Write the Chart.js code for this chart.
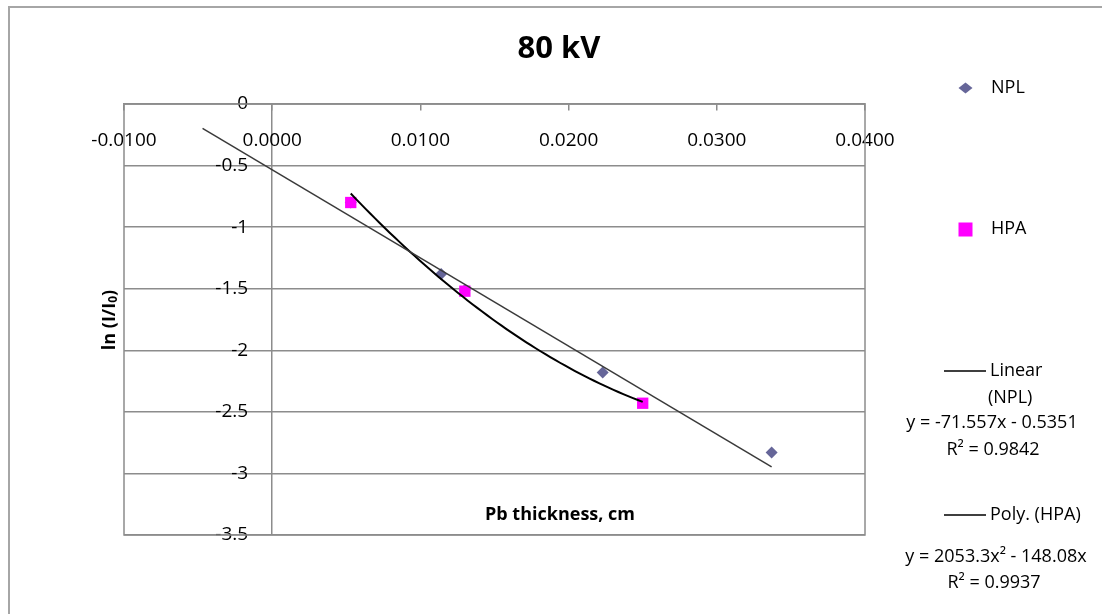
<!DOCTYPE html>
<html>
<head>
<meta charset="utf-8">
<title>80 kV</title>
<script src="https://cdn.jsdelivr.net/npm/chart.js@4/dist/chart.umd.min.js"></script>
<style>
  html, body { margin: 0; padding: 0; background: #ffffff; }
  #wrap { width: 1102px; height: 614px; position: relative; }
</style>
</head>
<body>
<div id="wrap"><canvas id="chart" width="1102" height="614"></canvas></div>
<script>
// ---- data ----
const chartTitle = '80 kV';
const xAxisTitle = 'Pb thickness, cm';
const seriesNames = ['NPL', 'HPA'];

const nplThickness = [0.0053, 0.0114, 0.0130, 0.0223, 0.0337];
const nplLnRatio   = [-0.80, -1.38, -1.51, -2.18, -2.83];

const hpaThickness = [0.0053, 0.0130, 0.0250];
const hpaLnRatio   = [-0.80, -1.52, -2.43];

// fitted trends, with the coefficients printed in the legend
const nplLinear = { slope: -71.557, intercept: -0.5351, r2: 0.9842, backward: 0.01 };
const hpaPoly   = { a: 2053.3, b: -148.08, r2: 0.9937 };

const xTicks = [-0.01, 0, 0.01, 0.02, 0.03, 0.04];
const yTicks = [0, -0.5, -1, -1.5, -2, -2.5, -3, -3.5];

// ---- styling ----
const FONT = '"Open Sans", "Liberation Sans", sans-serif';
const GRID = '#8c8c8c';
const NPL_COLOR = '#666699';
const HPA_COLOR = '#ff00ff';

const toPoints = (xs, ys) => xs.map((x, i) => ({ x, y: ys[i] }));

// linear trend line, extended backwards by the forecast period
const linStart = nplThickness[0] - nplLinear.backward;
const linEnd = nplThickness[nplThickness.length - 1];
const linearTrend = [linStart, linEnd].map(x => ({ x, y: nplLinear.slope * x + nplLinear.intercept }));

// quadratic trend curve across the HPA range
const polyTrend = [];
{
  const x0 = hpaThickness[0], x1 = hpaThickness[hpaThickness.length - 1], n = 60;
  for (let i = 0; i <= n; i++) {
    const x = x0 + (x1 - x0) * i / n;
    polyTrend.push({ x, y: hpaPoly.a * x * x + hpaPoly.b * x });
  }
}

// background, outer frame and plot-area frame
const framePlugin = {
  id: 'frame',
  afterLayout(chart) {
    // the value axis crosses at x = 0: its labels end just left of that line
    const y = chart.scales.y;
    y.left = chart.chartArea.left;
    y.right = chart.scales.x.getPixelForValue(0);
  },
  beforeDraw(chart) {
    const ctx = chart.ctx;
    ctx.save();
    ctx.fillStyle = '#ffffff';
    ctx.fillRect(0, 0, chart.width, chart.height);
    ctx.strokeStyle = '#a6a6a6';
    ctx.lineWidth = 2;
    ctx.beginPath();
    ctx.moveTo(9, chart.height);
    ctx.lineTo(9, 7);
    ctx.lineTo(chart.width, 7);
    ctx.stroke();
    ctx.restore();
  },
  beforeDatasetsDraw(chart) {
    const { ctx, chartArea: a } = chart;
    ctx.save();
    ctx.strokeStyle = GRID;
    ctx.lineWidth = 1.5;
    ctx.strokeRect(a.left, a.top, a.right - a.left, a.bottom - a.top);
    ctx.restore();
  }
};

// title, axis titles and the legend on the right
const labelsPlugin = {
  id: 'labels',
  afterDraw(chart) {
    const ctx = chart.ctx;
    ctx.save();
    ctx.fillStyle = '#000000';
    ctx.textBaseline = 'middle';

    // chart title
    ctx.font = 'bold 31px ' + FONT;
    ctx.textAlign = 'center';
    ctx.fillText(chartTitle, 559, 49);

    // x axis title
    ctx.font = 'bold 18px ' + FONT;
    ctx.fillText(xAxisTitle, 560, 515);

    // y axis title: ln (I/I0) with subscript
    ctx.save();
    ctx.translate(110, 320);
    ctx.rotate(-Math.PI / 2);
    const main = 'ln (I/I', sub = '0', close = ')';
    const fMain = 'bold 18px ' + FONT, fSub = 'bold 12px ' + FONT;
    ctx.font = fMain;
    const wMain = ctx.measureText(main).width, wClose = ctx.measureText(close).width;
    ctx.font = fSub;
    const wSub = ctx.measureText(sub).width;
    let x = -(wMain + wSub + wClose) / 2;
    ctx.textAlign = 'left';
    ctx.font = fMain; ctx.fillText(main, x, 0); x += wMain;
    ctx.font = fSub; ctx.fillText(sub, x, 4); x += wSub;
    ctx.font = fMain; ctx.fillText(close, x, 0);
    ctx.restore();

    // legend markers
    ctx.fillStyle = NPL_COLOR;
    ctx.beginPath();
    ctx.moveTo(958.5, 88); ctx.lineTo(965.5, 82.5); ctx.lineTo(972.5, 88); ctx.lineTo(965.5, 93.5);
    ctx.closePath(); ctx.fill();
    ctx.fillStyle = HPA_COLOR;
    ctx.fillRect(958.5, 222.5, 14, 14);

    ctx.fillStyle = '#000000';
    ctx.font = '18px ' + FONT;
    ctx.textAlign = 'left';
    ctx.fillText(seriesNames[0], 991, 88);
    ctx.fillText(seriesNames[1], 991, 229);

    // trend line entries
    ctx.strokeStyle = '#000000';
    ctx.lineWidth = 1.5;
    ctx.beginPath();
    ctx.moveTo(944, 371); ctx.lineTo(986, 371);
    ctx.moveTo(944, 515); ctx.lineTo(986, 515);
    ctx.stroke();

    ctx.fillText('Linear', 990, 371);
    ctx.fillText('(' + seriesNames[0] + ')', 988, 398);
    ctx.fillText('Poly. (' + seriesNames[1] + ')', 990, 515);

    ctx.textAlign = 'center';
    const lin = 'y = ' + nplLinear.slope + 'x - ' + Math.abs(nplLinear.intercept);
    ctx.fillText(lin, 992, 423);
    ctx.fillText('R\u00b2 = ' + nplLinear.r2.toFixed(4), 993, 450);
    const poly = 'y = ' + hpaPoly.a + 'x\u00b2 - ' + Math.abs(hpaPoly.b) + 'x';
    ctx.fillText(poly, 996, 557);
    ctx.fillText('R\u00b2 = ' + hpaPoly.r2.toFixed(4), 994, 583);

    ctx.restore();
  }
};

function build() {
  new Chart(document.getElementById('chart'), {
    type: 'scatter',
    data: {
      datasets: [
        {
          label: 'Linear (' + seriesNames[0] + ')',
          data: linearTrend,
          showLine: true,
          borderColor: '#3a3a3a',
          borderWidth: 1.5,
          pointRadius: 0,
          order: 0
        },
        {
          label: 'Poly. (' + seriesNames[1] + ')',
          data: polyTrend,
          showLine: true,
          borderColor: '#000000',
          borderWidth: 2,
          pointRadius: 0,
          order: 0
        },
        {
          label: seriesNames[1],
          data: toPoints(hpaThickness, hpaLnRatio),
          pointStyle: 'rect',
          pointRadius: 8,
          backgroundColor: HPA_COLOR,
          borderColor: HPA_COLOR,
          borderWidth: 0,
          order: 1
        },
        {
          label: seriesNames[0],
          data: toPoints(nplThickness, nplLnRatio),
          pointStyle: 'rectRot',
          pointRadius: 6,
          backgroundColor: NPL_COLOR,
          borderColor: NPL_COLOR,
          borderWidth: 0,
          order: 2
        }
      ]
    },
    options: {
      responsive: false,
      animation: false,
      devicePixelRatio: 1,
      layout: { padding: { left: 124, top: 104, right: 237, bottom: 79 } },
      plugins: {
        legend: { display: false },
        title: { display: false },
        tooltip: { enabled: false }
      },
      scales: {
        x: {
          type: 'linear',
          position: { y: 0 },
          min: xTicks[0],
          max: xTicks[xTicks.length - 1],
          afterBuildTicks: s => { s.ticks = xTicks.map(v => ({ value: v })); },
          grid: {
            drawOnChartArea: true,
            drawTicks: true,
            tickLength: 6,
            lineWidth: 1.5,
            color: c => (c.tick && c.tick.value === 0 ? GRID : 'rgba(0,0,0,0)'),
            tickColor: GRID
          },
          border: { display: true, color: GRID, width: 1.5 },
          ticks: {
            autoSkip: false,
            maxRotation: 0,
            padding: 19,
            color: '#000000',
            font: { family: FONT, size: 19 },
            callback: v => v.toFixed(4)
          }
        },
        y: {
          type: 'linear',
          position: 'left',
          min: yTicks[yTicks.length - 1],
          max: yTicks[0],
          afterBuildTicks: s => { s.ticks = yTicks.map(v => ({ value: v })); },
          afterFit: s => { s.width = 0; },
          grid: { drawOnChartArea: true, drawTicks: false, color: GRID, lineWidth: 1.5 },
          border: { display: false },
          ticks: {
            autoSkip: false,
            padding: 24,
            color: '#000000',
            font: { family: FONT, size: 19 },
            callback: v => String(v)
          }
        }
      }
    },
    plugins: [framePlugin, labelsPlugin]
  });
}

Promise.all([
  document.fonts.load('19px "Open Sans"'),
  document.fonts.load('bold 19px "Open Sans"')
]).then(build, build);
</script>
</body>
</html>
